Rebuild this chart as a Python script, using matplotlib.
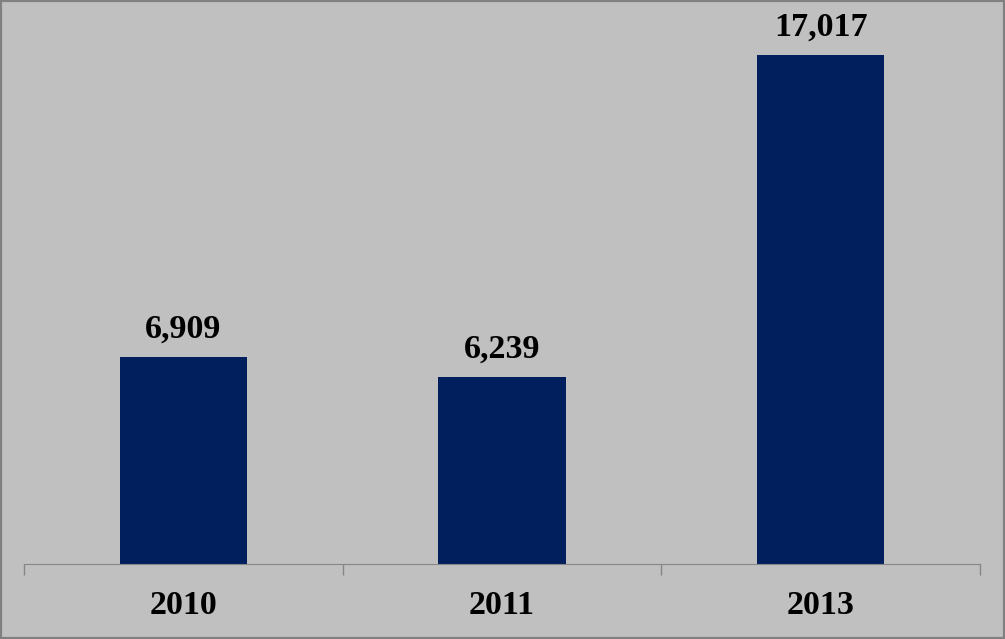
import matplotlib
matplotlib.use("Agg")
import matplotlib.pyplot as plt
from matplotlib.patches import Rectangle

years = ["2010", "2011", "2013"]
values = [6909, 6239, 17017]

bg = "#c0c0c0"
bar_color = "#001f5c"

fig = plt.figure(figsize=(10.05, 6.39), dpi=100, facecolor=bg)
ax = fig.add_axes([24 / 1005, 1 - 564 / 639, 956 / 1005, 538.4 / 639])
ax.set_facecolor(bg)

x = range(len(years))
ax.bar(x, values, width=0.4, color=bar_color)
ax.set_xlim(-0.5, len(years) - 0.5)
ax.set_ylim(0, 18000)

for xi, v in zip(x, values):
    ax.annotate(f"{v:,}", (xi, v), xytext=(0, 9), textcoords="offset points",
                ha="center", va="bottom", fontsize=24.5, fontweight="bold",
                family="Liberation Serif")

ax.set_xticks(list(x))
ax.set_xticklabels(years, fontsize=24.5, fontweight="bold", family="Liberation Serif")
ax.set_xticks([i - 0.5 for i in range(len(years) + 1)], minor=True)
ax.tick_params(axis="x", which="major", length=0, pad=19)
ax.tick_params(axis="x", which="minor", length=8, color="#868686", width=1)
ax.set_yticks([])
for s in ["top", "left", "right"]:
    ax.spines[s].set_visible(False)
ax.spines["bottom"].set_color("#868686")

fig.patches.append(Rectangle((0, 0), 1, 1, transform=fig.transFigure, fill=False,
                             edgecolor="#808080", linewidth=3))

fig.savefig("out.png", dpi=100, facecolor=bg)
